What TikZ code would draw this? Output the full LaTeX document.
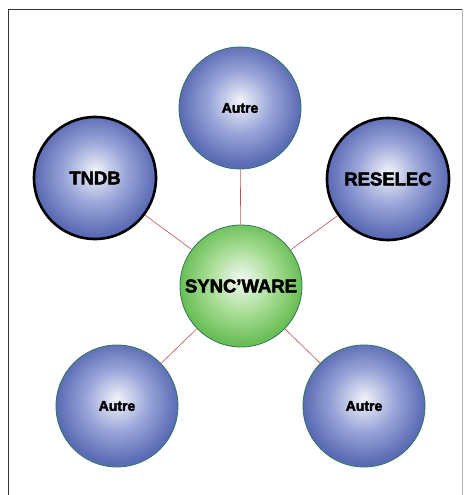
\documentclass[tikz,border=0pt]{standalone}
\usepackage{fontspec}
\setmainfont{Liberation Sans}[BoldFeatures={FakeBold=2.6}]
\definecolor{ballblue}{RGB}{90,106,180}
\definecolor{ballbluemid}{RGB}{152,164,216}
\definecolor{ballgreen}{RGB}{106,190,86}
\definecolor{ballgreenmid}{RGB}{170,222,152}
\definecolor{rimgreen}{RGB}{46,120,90}
\definecolor{linkred}{RGB}{190,80,80}
\definecolor{framegray}{RGB}{50,50,50}
% spherical-looking fills: light centre fading to the full colour at the rim
\pgfdeclareradialshading{bluesphere}{\pgfpoint{0bp}{3bp}}{%
  color(0bp)=(white!92!ballblue);
  color(13bp)=(ballbluemid);
  color(25bp)=(ballblue);
  color(50bp)=(ballblue)}
\pgfdeclareradialshading{greensphere}{\pgfpoint{0bp}{3bp}}{%
  color(0bp)=(white!92!ballgreen);
  color(13bp)=(ballgreenmid);
  color(25bp)=(ballgreen);
  color(50bp)=(ballgreen)}
\tikzset{
  ball/.style={circle, minimum size=122pt, inner sep=0pt, shading=bluesphere,
    draw=rimgreen, line width=0.8pt, font=\bfseries\fontsize{14}{16}\selectfont},
  bigball/.style={ball, draw=black, line width=2.6pt,
    font=\bfseries\fontsize{18.5}{20}\selectfont},
  hubball/.style={ball, shading=greensphere,
    font=\bfseries\fontsize{18.5}{20}\selectfont},
  link/.style={draw=linkred, line width=0.6pt}
}
\begin{document}
\begin{tikzpicture}[x=1pt,y=-1pt]
  \useasboundingbox (0,0) rectangle (465,495);
  % outer frame (runs past the lower edge)
  \draw[framegray, line width=1.3pt] (8.5,505) -- (8.5,9.5) -- (462,9.5);
  \draw[gray!60, line width=0.5pt] (462.5,9.5) -- (462.5,505);

  \node[hubball] (hub) at (241,286) {SYNC'WARE};
  \node[ball] (top) at (240,108) {Autre};
  \node[bigball] (tndb) at (95,178) {TNDB};
  \node[bigball] (reselec) at (388,179) {RESELEC};
  \node[ball] (bl) at (117,406) {Autre};
  \node[ball] (br) at (364,406) {Autre};

  \foreach \n in {top,tndb,reselec,bl,br}
    \draw[link] (hub) -- (\n);
\end{tikzpicture}
\end{document}
